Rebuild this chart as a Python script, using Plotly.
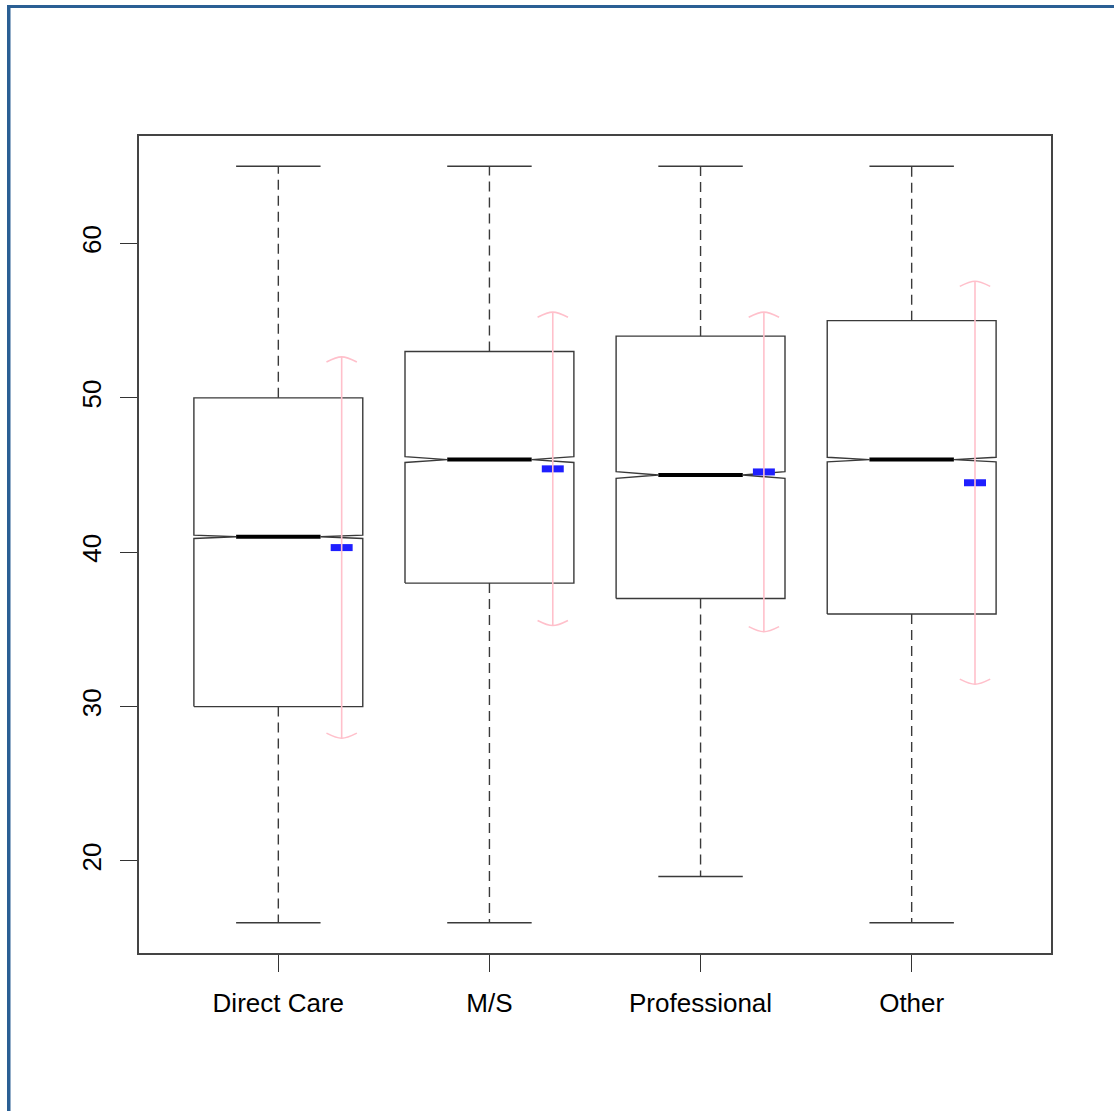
import plotly.graph_objects as go

# Summary statistics per job category
categories = ["Direct Care", "M/S", "Professional", "Other"]
lower_whisker = [16, 16, 19, 16]
q1 = [30, 38, 37, 36]
median = [41, 46, 45, 46]
q3 = [50, 53, 54, 55]
upper_whisker = [65, 65, 65, 65]
notch_half = [0.11, 0.19, 0.22, 0.15]   # notch half-height around the median
mean = [40.3, 45.4, 45.2, 44.5]
sd = [12.35, 10.15, 10.35, 13.05]

y_ticks = [20, 30, 40, 50, 60]

# Geometry in axis units
BOX_HALF = 0.4
CAP_HALF = 0.2
ERR_OFFSET = 0.3
ARROW_HALF = 0.072
ARROW_DROP = 0.33
MEAN_HALF = 0.052

BOX_COLOR = "#3a3a3a"
PINK = "#FFC0CB"
BLUE = "#1f1fff"

fig = go.Figure()

for i, cat in enumerate(categories):
    x = i + 1
    w = BOX_HALF
    lo, hi = median[i] - notch_half[i], median[i] + notch_half[i]

    # notched box outline
    bx = [x - w, x - w, x - w / 2, x - w, x - w, x + w, x + w, x + w / 2, x + w, x + w, x - w]
    by = [q1[i], lo, median[i], hi, q3[i], q3[i], hi, median[i], lo, q1[i], q1[i]]
    fig.add_trace(go.Scatter(x=bx, y=by, mode="lines",
                             line=dict(color=BOX_COLOR, width=1.4),
                             hoverinfo="skip", showlegend=False))

    # dashed whiskers
    for a, b in ((q3[i], upper_whisker[i]), (q1[i], lower_whisker[i])):
        fig.add_trace(go.Scatter(x=[x, x], y=[a, b], mode="lines",
                                 line=dict(color=BOX_COLOR, width=1.4, dash="10px,6px"),
                                 hoverinfo="skip", showlegend=False))
    # whisker caps
    for v in (upper_whisker[i], lower_whisker[i]):
        fig.add_trace(go.Scatter(x=[x - CAP_HALF, x + CAP_HALF], y=[v, v], mode="lines",
                                 line=dict(color=BOX_COLOR, width=1.4),
                                 hoverinfo="skip", showlegend=False))

    # median
    fig.add_trace(go.Scatter(x=[x - w / 2, x + w / 2], y=[median[i], median[i]], mode="lines",
                             line=dict(color="black", width=4),
                             hoverinfo="skip", showlegend=False))

    # mean marker
    xe = x + ERR_OFFSET
    fig.add_trace(go.Scatter(x=[xe - MEAN_HALF, xe + MEAN_HALF], y=[mean[i], mean[i]],
                             mode="lines", line=dict(color=BLUE, width=7),
                             hoverinfo="skip", showlegend=False))

    # mean +/- sd bar with arrow heads
    top, bot = mean[i] + sd[i], mean[i] - sd[i]
    fig.add_trace(go.Scatter(x=[xe, xe], y=[bot, top], mode="lines",
                             line=dict(color=PINK, width=1.6),
                             hoverinfo="skip", showlegend=False))
    fig.add_trace(go.Scatter(x=[xe - ARROW_HALF, xe, xe + ARROW_HALF],
                             y=[top - ARROW_DROP, top, top - ARROW_DROP], mode="lines",
                             line=dict(color=PINK, width=1.6, shape="spline"),
                             hoverinfo="skip", showlegend=False))
    fig.add_trace(go.Scatter(x=[xe - ARROW_HALF, xe, xe + ARROW_HALF],
                             y=[bot + ARROW_DROP, bot, bot + ARROW_DROP], mode="lines",
                             line=dict(color=PINK, width=1.6, shape="spline"),
                             hoverinfo="skip", showlegend=False))

FONT = "Liberation Sans, Arial, Helvetica, sans-serif"

fig.update_xaxes(
    range=[0.34, 4.66], tickvals=[1, 2, 3, 4], ticktext=categories,
    showgrid=False, zeroline=False,
    showline=True, mirror=True, linecolor="#444", linewidth=1.6,
    ticks="outside", ticklen=17, tickwidth=1.4, tickcolor="#333",
    tickfont=dict(family=FONT, size=26, color="black"),
    ticklabelstandoff=9,
)
fig.update_yaxes(
    range=[14.04, 66.96], tickvals=y_ticks, ticktext=[str(v) for v in y_ticks],
    showgrid=False, zeroline=False,
    showline=True, mirror=True, linecolor="#444", linewidth=1.6,
    ticks="outside", ticklen=17, tickwidth=1.4, tickcolor="#333",
    tickangle=-90,
    tickfont=dict(family=FONT, size=26, color="black"),
    ticklabelstandoff=9,
)

# outer frame (top and left edges)
BORDER = "#2a5f94"
W, H = 1114, 1111
L, R, T, B = 139, 63, 136, 158
pw, ph = W - L - R, H - T - B


def px_x(p):
    return (p - L) / pw


def px_y(p):
    return 1 - (p - T) / ph


fig.add_shape(type="rect", xref="paper", yref="paper",
              x0=px_x(7), x1=px_x(W + 5), y0=px_y(8), y1=px_y(5),
              fillcolor=BORDER, line=dict(width=0), layer="above")
fig.add_shape(type="rect", xref="paper", yref="paper",
              x0=px_x(7), x1=px_x(10.5), y0=px_y(H + 5), y1=px_y(5),
              fillcolor=BORDER, line=dict(width=0), layer="above")

fig.update_layout(
    width=W, height=H,
    margin=dict(l=L, r=R, t=T, b=B),
    paper_bgcolor="white", plot_bgcolor="white",
    showlegend=False,
)

fig.write_html("out.html")
